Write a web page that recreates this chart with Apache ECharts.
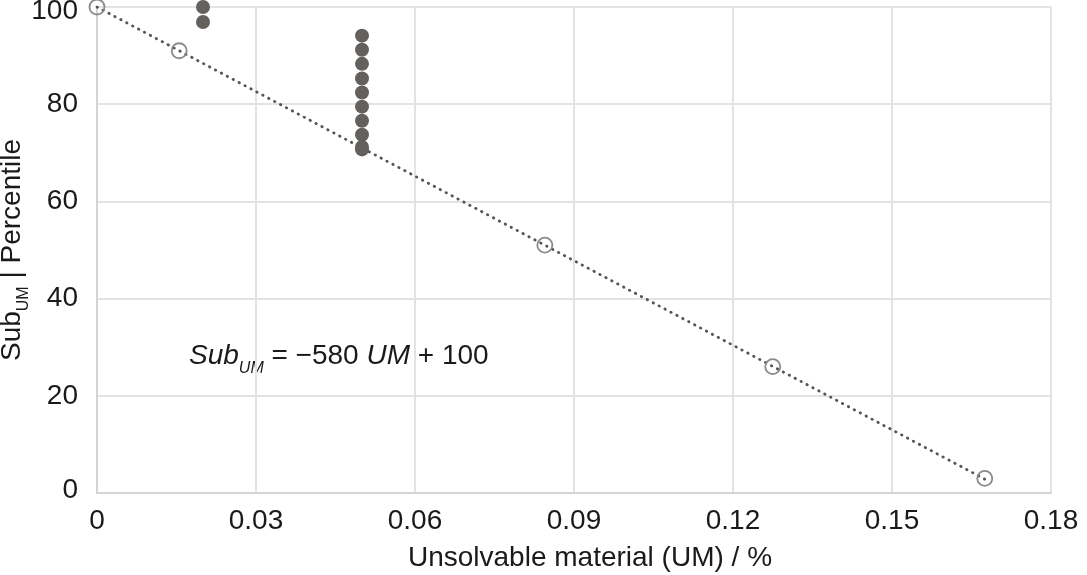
<!DOCTYPE html>
<html>
<head>
<meta charset="utf-8">
<title>SubUM Percentile</title>
<script src="https://cdn.jsdelivr.net/npm/echarts@6/dist/echarts.min.js"></script>
<style>
    html, body { margin: 0; padding: 0; background: #fff; }
    #chart { width: 1087px; height: 575px; }
</style>
</head>
<body>
<div id="chart"></div>
<script>
// 数据：开口圆点（拟合点）
const fitX = [0, 0.0155, 0.0845, 0.1275, 0.1675];
const fitY = [100, 91, 51, 26, 3];

// 数据：实心点
const solidX = [0.02, 0.02, 0.05, 0.05, 0.05, 0.05, 0.05, 0.05, 0.05, 0.05, 0.05, 0.05];
const solidY = [100, 96.9, 94.1, 91.2, 88.3, 85.3, 82.4, 79.5, 76.6, 73.7, 71.2, 70.7];

// 趋势线端点
const trendX = [0, 0.1675];
const trendY = [100, 2.85];

// 坐标轴刻度标签
const xTickLabels = ['0', '0.03', '0.06', '0.09', '0.12', '0.15', '0.18'];
const yTickLabels = ['0', '20', '40', '60', '80', '100'];

const FONT = '"Liberation Sans", Arial, Helvetica, sans-serif';
const TEXT_COLOR = '#1a1a1a';

// 入口
window.onload = function () {
    loadChart();
};

function zip(xs, ys) {
    return xs.map(function (x, i) { return [x, ys[i]]; });
}

// y 轴首尾标签稍微往里收
function yLabel(v, i) {
    if (i === yTickLabels.length - 1) {
        return '{top|' + yTickLabels[i] + '}';
    }
    if (i === 0) {
        return '{bot|' + yTickLabels[i] + '}';
    }
    return yTickLabels[i];
}

function loadChart() {
    let chart = echarts.init(document.getElementById('chart'));

    let option = {
        animation: false,
        textStyle: { fontFamily: FONT },
        grid: {
            left: 97,
            right: 36,
            top: 7,
            bottom: 82,
            containLabel: false,
            outerBoundsMode: 'none'
        },
        xAxis: {
            type: 'value',
            min: 0,
            max: 0.18,
            interval: 0.03,
            name: 'Unsolvable material (UM) / %',
            nameLocation: 'middle',
            nameGap: 51,
            nameMoveOverlap: false,
            nameTextStyle: {
                fontFamily: FONT,
                fontSize: 28,
                color: TEXT_COLOR,
                padding: [0, 0, 0, 32]
            },
            axisLine: { lineStyle: { color: '#d4d4d4', width: 2 } },
            axisTick: { show: false },
            axisLabel: {
                fontFamily: FONT,
                fontSize: 28,
                color: TEXT_COLOR,
                margin: 14,
                formatter: function (v, i) { return xTickLabels[i]; }
            },
            splitLine: { lineStyle: { color: '#e3e3e3', width: 2 } }
        },
        yAxis: {
            type: 'value',
            min: 0,
            max: 100,
            interval: 20,
            name: '{a|Sub}{b|UM}{a| | Percentile}',
            nameLocation: 'middle',
            nameGap: 65,
            nameMoveOverlap: false,
            nameTextStyle: {
                fontFamily: FONT,
                fontSize: 28,
                color: TEXT_COLOR,
                rich: {
                    a: { fontFamily: FONT, fontSize: 28, color: TEXT_COLOR, lineHeight: 40 },
                    b: { fontFamily: FONT, fontSize: 16, color: TEXT_COLOR, lineHeight: 40, verticalAlign: 'bottom' }
                }
            },
            axisLine: { show: true, lineStyle: { color: '#d4d4d4', width: 2 } },
            axisTick: { show: false },
            axisLabel: {
                fontFamily: FONT,
                fontSize: 28,
                color: TEXT_COLOR,
                margin: 19,
                formatter: yLabel,
                rich: {
                    top: { fontFamily: FONT, fontSize: 28, color: TEXT_COLOR, padding: [9, 0, 0, 0] },
                    bot: { fontFamily: FONT, fontSize: 28, color: TEXT_COLOR, padding: [0, 0, 5, 0] }
                }
            },
            splitLine: { lineStyle: { color: '#e3e3e3', width: 2 } }
        },
        // 回归方程
        graphic: [
            {
                type: 'text',
                left: 189,
                top: 342,
                style: {
                    text: '{i|Sub}{s|UM}{n| = −580 }{i|UM}{n| + 100}',
                    fontFamily: FONT,
                    rich: {
                        i: { fontFamily: FONT, fontSize: 28, fontStyle: 'italic', fill: TEXT_COLOR, lineHeight: 42 },
                        n: { fontFamily: FONT, fontSize: 28, fill: TEXT_COLOR, lineHeight: 42 },
                        s: { fontFamily: FONT, fontSize: 16, fontStyle: 'italic', fill: TEXT_COLOR, lineHeight: 42, verticalAlign: 'bottom' }
                    }
                }
            }
        ],
        series: [
            {
                name: 'trend',
                type: 'line',
                data: zip(trendX, trendY),
                symbol: 'none',
                lineStyle: {
                    color: '#555555',
                    width: 2.8,
                    type: [0.5, 6.2],
                    cap: 'round'
                },
                z: 2
            },
            {
                name: 'fit',
                type: 'scatter',
                data: zip(fitX, fitY),
                symbol: 'circle',
                symbolSize: 15,
                itemStyle: {
                    color: 'rgba(255,255,255,0)',
                    borderColor: '#8a8a8a',
                    borderWidth: 1.8,
                    opacity: 1
                },
                z: 3
            },
            {
                name: 'solid',
                type: 'scatter',
                data: zip(solidX, solidY),
                symbol: 'circle',
                symbolSize: 14,
                itemStyle: {
                    color: '#63605d',
                    opacity: 1
                },
                z: 4
            }
        ]
    };

    chart.setOption(option);

    window.onresize = function () {
        chart.resize();
    };
}
</script>
</body>
</html>
